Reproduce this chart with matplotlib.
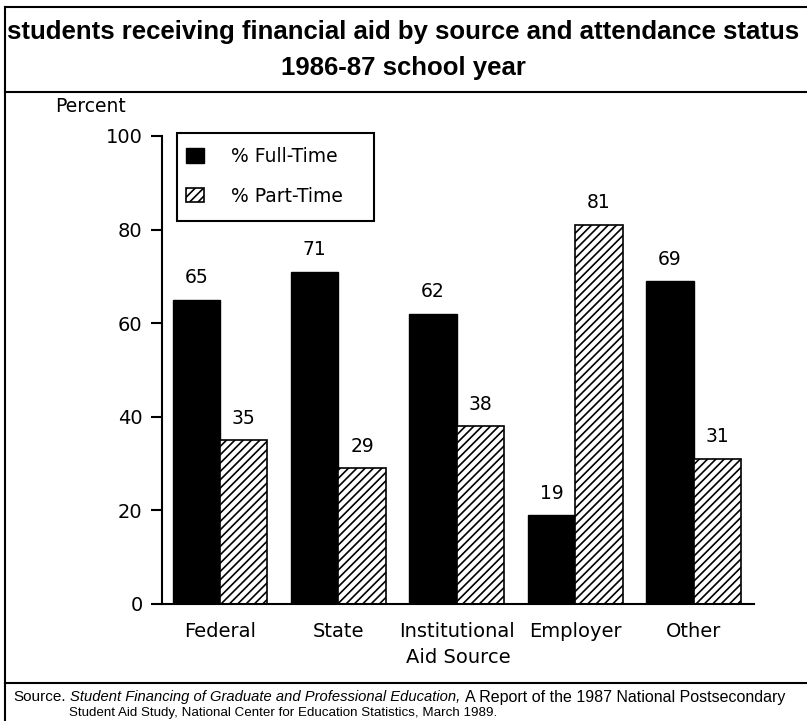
import matplotlib
matplotlib.use("Agg")
import matplotlib.pyplot as plt
from matplotlib.patches import Rectangle
import numpy as np

plt.rcParams['font.family'] = ['DejaVu Sans']
plt.rcParams['hatch.linewidth'] = 1.2

sources = ["Federal", "State", "Institutional", "Employer", "Other"]
full_time = [65, 71, 62, 19, 69]
part_time = [35, 29, 38, 81, 31]
y_ticks = [0, 20, 40, 60, 80, 100]

W, H = 807, 721
fig = plt.figure(figsize=(W / 100, H / 100), dpi=100)
ax = fig.add_axes([0.2007, 0.1623, 0.7336, 0.6491])

x = np.arange(len(sources))
w = 0.4
b1 = ax.bar(x - w / 2, full_time, w, color='black', edgecolor='black',
            linewidth=1, label='% Full-Time')
b2 = ax.bar(x + w / 2, part_time, w, color='white', edgecolor='black',
            hatch='////', linewidth=1.2, label='% Part-Time')
ax.bar_label(b1, padding=9, fontsize=13.5)
ax.bar_label(b2, padding=9, fontsize=13.5)

ax.set_xlim(-0.49, 4.51)
ax.set_ylim(0, 100)
ax.set_yticks(y_ticks)
ax.set_xticks(x)
ax.set_xticklabels(sources, fontsize=14)
ax.tick_params(axis='x', length=0, pad=13)
ax.tick_params(axis='y', length=8, width=1.5, labelsize=14, pad=6)
for s in ['top', 'right']:
    ax.spines[s].set_visible(False)
ax.spines['left'].set_linewidth(1.5)
ax.spines['bottom'].set_linewidth(1.5)
ax.set_xlabel("Aid Source", fontsize=14, labelpad=5)

# legend without its own frame; the box is drawn separately
leg = ax.legend(loc='upper left', bbox_to_anchor=(186 / W, 1 - 147 / H),
                bbox_transform=fig.transFigure, fontsize=13.5,
                frameon=False, handlelength=0.95, handleheight=0.8,
                handletextpad=1.45, labelspacing=1.1, borderpad=0,
                borderaxespad=0)
fig.add_artist(Rectangle((177 / W, 1 - 221 / H), 197 / W, 88 / H,
                         transform=fig.transFigure, fill=False,
                         edgecolor='black', lw=1.5))

fig.text(0.068, 0.852, "Percent", fontsize=13.5, ha='left', va='center')

# title block and frame lines
fig.text(0.5, 0.955, "students receiving financial aid by source and attendance status",
         fontsize=18.5, fontweight='bold', family='Liberation Sans',
         ha='center', va='center')
fig.text(0.5, 0.905, "1986-87 school year",
         fontsize=18.5, fontweight='bold', family='Liberation Sans',
         ha='center', va='center')
for yy in [0.99, 0.873, 0.053]:
    fig.add_artist(plt.Line2D([0.006, 1.0], [yy, yy], color='black', lw=1.5))
fig.add_artist(plt.Line2D([0.006, 0.006], [0.0, 0.99], color='black', lw=1.5))

# source note, pieces placed one after another
renderer = fig.canvas.get_renderer()


def put_line(parts, x0, y):
    xx = x0
    for txt, sty, fs in parts:
        t = fig.text(xx, y, txt, fontsize=fs, style=sty, family='Liberation Sans',
                     ha='left', va='center')
        bb = t.get_window_extent(renderer)
        xx = bb.x1 / fig.bbox.width + 0.006


put_line([("Source.", 'normal', 11),
          ("Student Financing of Graduate and Professional Education,", 'italic', 10.6),
          ("A Report of the 1987 National Postsecondary", 'normal', 11.5)], 0.016, 0.033)
put_line([("Student Aid Study, National Center for Education Statistics, March 1989.",
           'normal', 9.6)], 0.086, 0.011)

fig.savefig("out.png", dpi=100)
